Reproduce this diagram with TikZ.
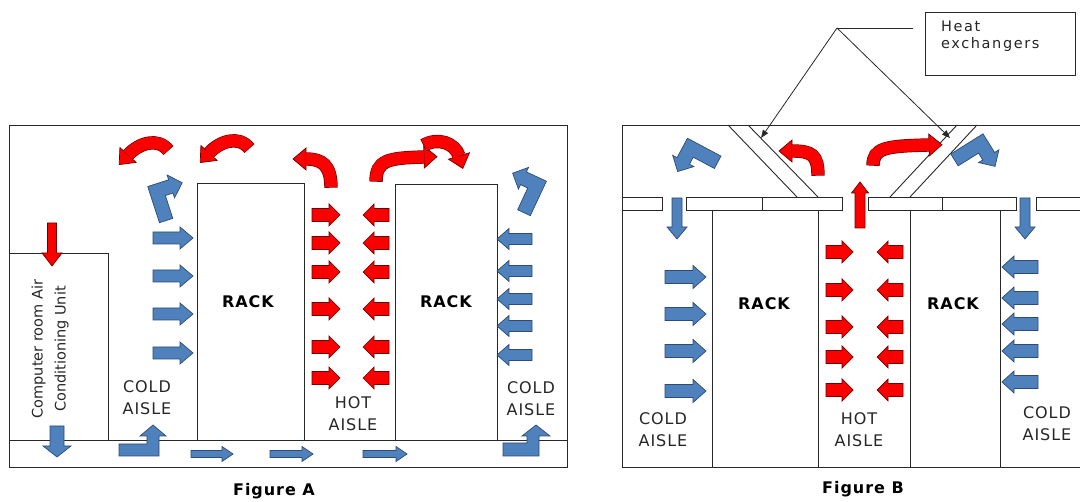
\documentclass[tikz,border=0pt]{standalone}
\usepackage{fontspec}
\setmainfont{DejaVu Sans}
\newfontfamily\lbl[LetterSpace=6]{DejaVu Sans}
\newfontfamily\hxf[LetterSpace=11]{DejaVu Sans}
\usetikzlibrary{arrows.meta,calc}
\definecolor{cblue}{RGB}{79,129,189}
\definecolor{cblueln}{RGB}{45,75,115}
\definecolor{cred}{RGB}{252,0,0}
\definecolor{credln}{RGB}{110,0,0}
\definecolor{ln}{RGB}{40,40,40}
% straight block arrow: color, x, y, angle, length, body half width, head half width, head length
\newcommand\blk[8]{\filldraw[fill=#1,draw=#1ln,line width=0.7pt,shift={(#2,#3)},rotate=#4] (0,-#6) -- ({#5-#8},-#6) -- ({#5-#8},-#7) -- (#5,0) -- ({#5-#8},#7) -- ({#5-#8},#6) -- (0,#6) -- cycle;}
% bent block arrow: x, y, angle, mirror
\newcommand\bent[4]{\filldraw[fill=cblue,draw=cblueln,line width=0.7pt,shift={(#1,#2)},rotate=#3,yscale=#4,shift={(-17,-2.5)}] (0,24) -- (0,-14) -- (22,-14) -- (22,-19) -- (34,-7) -- (22,5) -- (22,0) -- (14,0) -- (14,24) -- cycle;}
% curved block arrow: start, c1, c2, end of body
\newcommand\carrow[4]{%
  \draw[line width=13.4pt,credln,shorten <=-0.7pt] (#1) .. controls (#2) and (#3) .. (#4);
  \filldraw[fill=cred,draw=credln,line width=0.7pt] ($(#4)!11pt!90:(#3)$) -- ($(#4)!-13pt!(#3)$) -- ($(#4)!11pt!-90:(#3)$) -- cycle;
  \draw[line width=12pt,cred] (#1) .. controls (#2) and (#3) .. (#4);
}
\tikzset{
  wall/.style={draw=ln,line width=0.9pt},
  bluel/.style={fill=cblue,draw=cblueln,line width=0.7pt},
  txt/.style={font=\lbl\fontsize{16}{22}\selectfont,align=center,inner sep=0pt,text=black!85},
  rk/.style={font=\lbl\bfseries\fontsize{16}{18}\selectfont,inner sep=0pt},
}
\begin{document}
\begin{tikzpicture}[x=1pt,y=-1pt]
\useasboundingbox (0,0) rectangle (1080,502);
\fill[white] (0,0) rectangle (1080,502);
% ---------------- Figure A ----------------
\draw[wall] (9,125) rectangle (567,467);
\draw[wall] (9,440) -- (567,440);
\draw[wall] (9,253) -- (108,253) -- (108,440);
\draw[wall] (197,183) rectangle (304,440);
\draw[wall] (395,184) rectangle (497,440);
\node[rotate=90,font=\fontsize{14.5}{23}\selectfont,align=center,inner sep=0pt,text=black!85] (crac) at (50,349) {Computer room Air\\Conditioning Unit};
\node[rk] (rackA1) at (248,302) {RACK};
\node[rk] (rackA2) at (446,302) {RACK};
\node[txt] (coldA1) at (147,398) {COLD\\AISLE};
\node[txt] (hotA) at (353,414) {HOT\\AISLE};
\node[txt] (coldA2) at (531,399) {COLD\\AISLE};
\node[rk] (figA) at (274,491) {Figure A};
\blk{cred}{52}{223}{270}{43}{4.5}{10}{13}
\blk{cblue}{57}{426}{270}{31}{7}{14}{11}
\filldraw[bluel] (119,444)--(147,444)--(147,436)--(140,436)--(153,425)--(166,436)--(159,436)--(159,456)--(119,456)--cycle;
\filldraw[bluel] (503,443)--(527,443)--(527,436)--(522,436)--(536,425)--(550,436)--(539,436)--(539,456)--(503,456)--cycle;
\blk{cblue}{191}{454}{0}{42}{3.5}{7.5}{11}
\blk{cblue}{270}{454}{0}{43}{3.5}{7.5}{11}
\blk{cblue}{363}{454}{0}{44}{3.5}{7.5}{11}
\foreach \y in {238,276,314,353} {\blk{cblue}{153}{\y}{0}{40}{6}{11}{13}}
\foreach \y in {239,271,299,326,355} {\blk{cblue}{532}{\y}{180}{35}{5.5}{10.5}{12}}
\foreach \y in {215,243,272,309,347,378} {\blk{cred}{312}{\y}{0}{28}{6.5}{11}{11}\blk{cred}{389}{\y}{180}{26}{6.5}{11}{11}}
\bent{169}{197}{18}{1}
\bent{524}{189}{155}{-1}
\carrow{168,150}{158,137}{139,143}{128,155}
\carrow{249,148}{239,135}{220,141}{209,153}
\carrow{331,187}{331,165}{322,159}{306,159}
\carrow{376,181}{376,160}{388,158}{424,157}
\carrow{424,145}{438,137}{455,143}{459,156}
% ---------------- Figure B ----------------
\draw[wall] (1080,125) -- (622,125) -- (622,467) -- (1080,467);
\foreach \a/\b in {622/662,686/762,762/842,868/942,942/1016} {\draw[wall] (\a,197) rectangle (\b,210);}
\draw[wall] (1080,197) -- (1036,197) -- (1036,210) -- (1080,210);
\draw[wall] (712,210) -- (712,467);
\draw[wall] (818,210) -- (818,467);
\draw[wall] (910,210) -- (910,467);
\draw[wall] (1000,210) -- (1000,467);
\draw[wall] (728,125) -- (797,197);
\draw[wall] (748,125) -- (818,197);
\draw[wall] (890,197) -- (957,125);
\draw[wall] (910,197) -- (977,125);
\node[rk] (rackB1) at (764,304) {RACK};
\node[rk] (rackB2) at (953,304) {RACK};
\node[txt] (coldB1) at (663,430) {COLD\\AISLE};
\node[txt] (hotB) at (859,430) {HOT\\AISLE};
\node[txt] (coldB2) at (1047,424) {COLD\\AISLE};
\node[rk] (figB) at (863,489) {Figure B};
\node[draw=ln,line width=0.9pt,minimum width=150pt,minimum height=63pt,inner sep=0pt] (hx) at (1000,43.5) {};
\node[anchor=north west,font=\hxf\fontsize{14.5}{17}\selectfont,align=left,inner sep=0pt,text=black!85] (hxt) at (941,21) {Heat\\exchangers};
\coordinate (hxl) at (913,28);
\coordinate (hxj) at (837,28);
\coordinate (hxa) at (761,138);
\coordinate (hxb) at (950,138);
\draw[ln,line width=0.8pt] (hxl) -- (hxj);
\draw[ln,line width=0.8pt,-{Triangle[length=8pt,width=6pt]}] (hxj) -- (hxa);
\draw[ln,line width=0.8pt,-{Triangle[length=8pt,width=6pt]}] (hxj) -- (hxb);
\blk{cblue}{677}{198}{270}{41}{5}{10}{12}
\blk{cblue}{1025}{198}{270}{41}{5}{10}{12}
\blk{cred}{860}{228}{90}{46}{5}{8.5}{11}
\foreach \y in {277,314,351,391} {\blk{cblue}{665}{\y}{0}{41}{6.5}{11.5}{13}}
\foreach \y in {252,290,327,357,390} {\blk{cred}{826}{\y}{0}{27}{6.5}{11}{11}\blk{cred}{903}{\y}{180}{26}{6.5}{11}{11}}
\foreach \y in {267,298,324,351,382} {\blk{cblue}{1038}{\y}{180}{36}{6.5}{11}{12}}
\bent{694}{161}{242}{-1}
\bent{978}{157}{-58}{1}
\carrow{818,175}{818,155}{812,151}{792,151}
\carrow{873,165}{873,148}{885,146}{929,145}
\end{tikzpicture}
\end{document}
